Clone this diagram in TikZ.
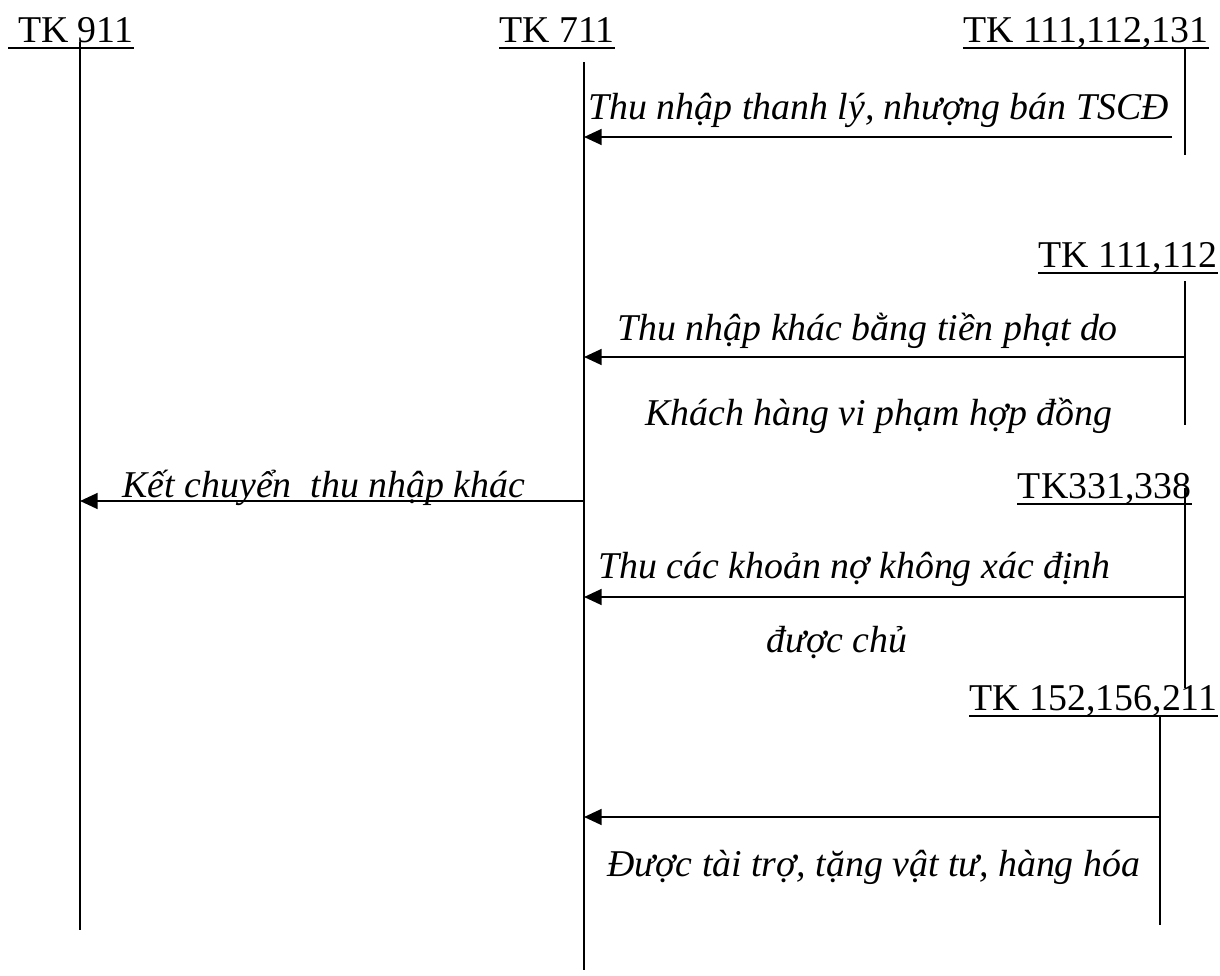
\documentclass[tikz,border=0pt]{standalone}
\usepackage{fontspec}
\setmainfont{Liberation Serif}
\usetikzlibrary{arrows.meta}

\begin{document}
\begin{tikzpicture}[line cap=butt,line join=round,>={Triangle[length=5.6pt,width=5pt]},x=0.3172pt,y=-0.3172pt,
	acc/.style={inner sep=0pt,text depth=0pt,font=\fontsize{12}{14}\selectfont},
	note/.style={inner sep=0pt,font=\fontsize{12}{14}\selectfont\itshape},
	tline/.style={line width=0.55pt},
	flow/.style={->,line width=0.75pt},
	uline/.style={line width=0.55pt}]
	\useasboundingbox (0,0) rectangle (1220,976);
	% account headings
	\node[acc,anchor=base west] (t911) at (8,42) {\ TK 911};
	\node[acc,anchor=base west] (t711) at (499,42) {TK 711};
	\node[acc,anchor=base east] (t111a) at (1209,42) {TK 111,112,131};
	\node[acc,anchor=base east] (t111b) at (1218,267) {TK 111,112};
	\node[acc,anchor=base east] (t331) at (1192,498) {TK331,338};
	\node[acc,anchor=base east] (t152) at (1218,710) {TK 152,156,211};
	\foreach \k in {t911,t711,t111a,t111b,t331,t152}
		\draw[uline] ([yshift=-1.6pt]\k.south west) -- ([yshift=-1.6pt]\k.south east);
	% T-account lines
	\coordinate (a911) at (80,42);  \coordinate (b911) at (80,930);
	\coordinate (a711) at (584,62); \coordinate (b711) at (584,970);
	\coordinate (a1) at (1185,47);  \coordinate (b1) at (1185,155);
	\coordinate (a2) at (1185,281); \coordinate (b2) at (1185,425);
	\coordinate (a3) at (1185,488); \coordinate (b3) at (1185,688);
	\coordinate (a4) at (1160,715); \coordinate (b4) at (1160,925);
	\draw[tline] (a911) -- (b911);
	\draw[tline] (a711) -- (b711);
	\draw[tline] (a1) -- (b1);
	\draw[tline] (a2) -- (b2);
	\draw[tline] (a3) -- (b3);
	\draw[tline] (a4) -- (b4);
	% entries
	\coordinate (s1) at (1172,137);
	\coordinate (s2) at (1185,357);
	\coordinate (s3) at (584,501);
	\coordinate (s4) at (1185,597);
	\coordinate (s5) at (1160,817);
	\draw[flow] (s1) -- (s1 -| a711);
	\draw[flow] (s2) -- (s2 -| a711);
	\draw[flow] (s3) -- (s3 -| a911);
	\draw[flow] (s4) -- (s4 -| a711);
	\draw[flow] (s5) -- (s5 -| a711);
	\node[note,anchor=base west] (n1) at (588,119) {Thu nhập thanh lý, nhượng bán TSCĐ};
	\node[note,anchor=base west] (n2) at (617,340) {Thu nhập khác bằng tiền phạt do};
	\node[note,anchor=base west] (n3) at (645,425) {Khách hàng vi phạm hợp đồng};
	\node[note,anchor=base west] (n4) at (122,497) {Kết chuyển\ \ thu nhập khác};
	\node[note,anchor=base west] (n5) at (598,578) {Thu các khoản nợ không xác định};
	\node[note,anchor=base west] (n6) at (766,652) {được chủ};
	\node[note,anchor=base west] (n7) at (607,876) {Được tài trợ, tặng vật tư, hàng hóa};
\end{tikzpicture}
\end{document}
